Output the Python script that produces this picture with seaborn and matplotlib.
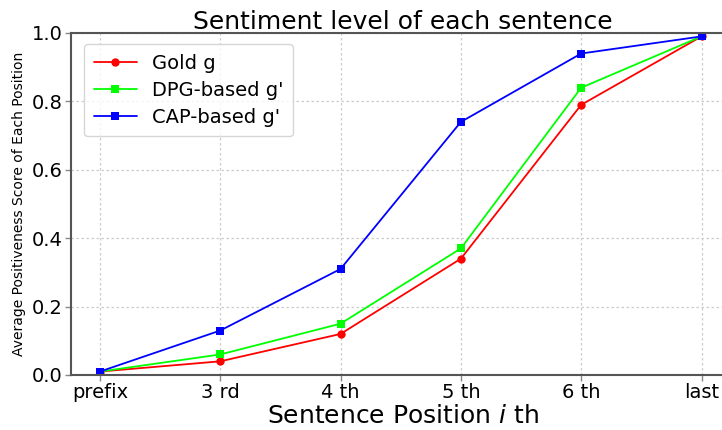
import matplotlib
matplotlib.use("Agg")
import matplotlib.pyplot as plt
import seaborn as sns
import pandas as pd
import numpy as np

positions = ["prefix", "3 rd", "4 th", "5 th", "6 th", "last"]
gold = [0.01, 0.04, 0.12, 0.34, 0.79, 0.99]
dpg = [0.01, 0.06, 0.15, 0.37, 0.84, 0.99]
cap = [0.01, 0.13, 0.31, 0.74, 0.94, 0.99]
series_names = ["Gold g", "DPG-based g'", "CAP-based g'"]
colors = ["#ff0000", "#00ff00", "#0000ff"]
markers = ["o", "s", "s"]

sns.set_style("whitegrid", {"grid.color": "#cccccc", "axes.edgecolor": "#555555",
                            "text.color": "black", "axes.labelcolor": "black",
                            "xtick.color": "black", "ytick.color": "black"})
plt.rcParams["font.family"] = ["DejaVu Sans"]

rows = []
for name, vals in zip(series_names, [gold, dpg, cap]):
    for i, v in enumerate(vals):
        rows.append({"pos": i, "score": v, "series": name})
df = pd.DataFrame(rows)

fig = plt.figure(figsize=(7.22, 4.30), dpi=100)
ax = fig.add_axes([71 / 722, 55 / 430, 663 / 722, 342 / 430])

sns.lineplot(data=df, x="pos", y="score", hue="series", style="series",
             hue_order=series_names, style_order=series_names,
             palette=dict(zip(series_names, colors)),
             markers=dict(zip(series_names, markers)), dashes=False,
             markersize=6, markeredgewidth=0, linewidth=1.3, ax=ax)

ax.set_xlim(-0.24, 5.27)
ax.set_ylim(0, 1.0)
ax.set_xticks(range(len(positions)))
ax.set_xticklabels(positions)
ax.set_yticks([0.0, 0.2, 0.4, 0.6, 0.8, 1.0])
ax.tick_params(axis="both", labelsize=14, length=4, width=1, color="#888888",
               labelcolor="black", bottom=True, left=True, pad=2)
for s in ax.spines.values():
    s.set_linewidth(1.5)
ax.grid(True, linestyle=(0, (2, 2)), color="#cccccc", linewidth=0.9)

ax.set_title("Sentiment level of each sentence", fontsize=18, pad=3, color="black")
ax.set_xlabel("Sentence Position $i$ th", fontsize=18, labelpad=1, color="black")
ax.set_ylabel("Average Positiveness Score of Each Position", fontsize=10,
              labelpad=4, color="black")

leg = ax.legend(loc="upper left", fontsize=14, frameon=True, handlelength=2.2,
                borderpad=0.5, labelspacing=0.4, bbox_to_anchor=(0.005, 0.995))
leg.get_frame().set_edgecolor("#cccccc")
for t in leg.get_texts():
    t.set_color("black")

fig.savefig("out.png", dpi=100)
